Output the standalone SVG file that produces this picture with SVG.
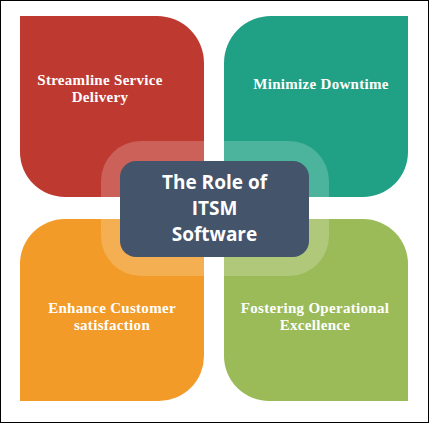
<svg xmlns="http://www.w3.org/2000/svg" width="430" height="424" viewBox="0 0 430 424">
<style>
.lbl{font-family:"Liberation Serif","DejaVu Serif",serif;font-weight:bold;font-size:15px;letter-spacing:0.3px;fill:#fff;text-anchor:middle}
.ctr{font-family:"Open Sans","Liberation Sans",sans-serif;font-weight:bold;font-size:19px;fill:#fff;text-anchor:middle}
</style>
<rect x="0.5" y="0.5" width="428" height="422" fill="#fff" stroke="#000" stroke-width="1"/>
<g id="streamline">
<path d="M20,16 H157 A47,47 0 0 1 204,63 V197 H65 A45,45 0 0 1 20,152 Z" fill="#BE3A30"/>
<text class="lbl" x="100" y="85">Streamline Service</text>
<text class="lbl" x="100" y="102">Delivery</text>
</g>
<g id="downtime">
<path d="M269,16 H408 V152 A45,45 0 0 1 363,197 H224 V63 A47,47 0 0 1 271,16 Z" fill="#20A085"/>
<text class="lbl" x="321" y="89">Minimize Downtime</text>
</g>
<g id="customer">
<path d="M65,219 H204 V356 A45,45 0 0 1 159,401 H20 V264 A45,45 0 0 1 65,219 Z" fill="#F29B28"/>
<text class="lbl" x="112" y="313">Enhance Customer</text>
<text class="lbl" x="112" y="330">satisfaction</text>
</g>
<g id="operational">
<path d="M224,219 H363 A45,45 0 0 1 408,264 V401 H269 A45,45 0 0 1 224,356 Z" fill="#9BBB59"/>
<text class="lbl" x="315" y="313">Fostering Operational</text>
<text class="lbl" x="315" y="330">Excellence</text>
</g>
<g id="center">
<rect x="101" y="141" width="228" height="135" rx="40" fill="#fff" fill-opacity="0.2"/>
<rect x="120" y="161" width="189" height="96" rx="16" fill="#44546A"/>
<text class="ctr" x="214.5" y="189">The Role of</text>
<text class="ctr" x="214.5" y="215">ITSM</text>
<text class="ctr" x="214.5" y="241">Software</text>
</g>
<g id="connectors"/>
</svg>
